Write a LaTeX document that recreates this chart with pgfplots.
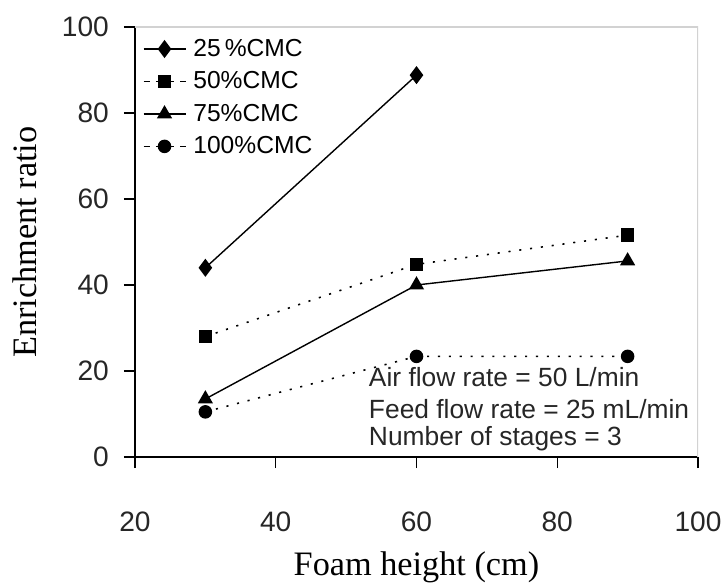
\documentclass[border=0pt]{standalone}
\usepackage{pgfplots}
\pgfplotsset{compat=1.18}
\usepackage{fontspec}
\setmainfont{Liberation Sans}
\newfontfamily\serif{Liberation Serif}
\usetikzlibrary{calc}

\pgfplotsset{
  dashleg/.style={legend image code/.code={%
    \draw[mark repeat=2,mark phase=2,##1,dash pattern=on 3.5pt off 3.5pt]
      plot coordinates {(0cm,0cm)(0.42cm,0cm)(0.84cm,0cm)};}},
  solidleg/.style={legend image code/.code={%
    \draw[mark repeat=2,mark phase=2,##1]
      plot coordinates {(0cm,0cm)(0.42cm,0cm)(0.84cm,0cm)};}},
}

\begin{document}
\begin{tikzpicture}
\begin{axis}[
    scale only axis,
    width=11.26cm, height=8.6cm,
    xmin=20, xmax=100, ymin=0, ymax=100,
    xtick={20,40,60,80,100}, ytick={0,20,40,60,80,100},
    axis lines=left,
    axis line style={-, line width=0.7pt},
    tick align=outside,
    major tick length=0.22cm,
    tick style={black, line width=0.7pt},
    /pgf/number format/assume math mode=true,
    tick label style={font=\fontsize{16}{18}\selectfont, text=black!85},
    xticklabel style={yshift=-0.75cm},
    yticklabel style={xshift=-0.18cm},
    xlabel={\serif Foam height (cm)},
    ylabel={\serif Enrichment ratio},
    label style={font=\fontsize{19.5}{22}\selectfont},
    xlabel style={yshift=-0.17cm},
    ylabel style={yshift=0.25cm},
    legend style={draw=none, fill=none, at={(rel axis cs:0.01,0.985)},
      anchor=north west, font=\fontsize{14}{16}\selectfont,
      row sep=3.2pt, inner sep=1pt,
      nodes={inner xsep=4pt}},
    legend cell align=left,
]
\draw[gray!35, line width=0.6pt] (rel axis cs:0,1) -- (rel axis cs:1,1) -- (rel axis cs:1,0);

\addplot[black, line width=0.8pt, mark=diamond*, mark size=4.5pt, solidleg]
  coordinates {(30,44) (60,88.8)};
\addlegendentry{25\,\%CMC}
\addplot[black, line width=0.9pt, dash pattern=on 1.2pt off 5pt, mark=square*, mark size=3.4pt,
  mark options={solid}, dashleg]
  coordinates {(30,28) (60,44.8) (90,51.6)};
\addlegendentry{50\%CMC}
\addplot[black, line width=0.8pt, mark=triangle*, mark size=4.2pt, solidleg]
  coordinates {(30,13.5) (60,40) (90,45.6)};
\addlegendentry{75\%CMC}
\addplot[black, line width=0.9pt, dash pattern=on 1.2pt off 5pt, mark=*, mark size=3.4pt,
  mark options={solid}, dashleg]
  coordinates {(30,10.5) (60,23.4) (90,23.4)};
\addlegendentry{100\%CMC}

\node[anchor=base west, font=\fontsize{15}{17}\selectfont, text=black!85, inner sep=0pt]
  at (axis cs:53.2,16.3) {Air flow rate = 50 L/min};
\node[anchor=base west, font=\fontsize{15}{17}\selectfont, text=black!85, inner sep=0pt]
  at (axis cs:53.2,8.9) {Feed flow rate = 25 mL/min};
\node[anchor=base west, font=\fontsize{15}{17}\selectfont, text=black!85, inner sep=0pt]
  at (axis cs:53.2,2.6) {Number of stages = 3};

\coordinate (bl) at (rel axis cs:0,0);
\coordinate (tr) at (rel axis cs:1,1);
\end{axis}
\pgfresetboundingbox
\path[use as bounding box] ($(bl)+(-2.7cm,-2.52cm)$) rectangle ($(tr)+(0.48cm,0.54cm)$);
\end{tikzpicture}
\end{document}
